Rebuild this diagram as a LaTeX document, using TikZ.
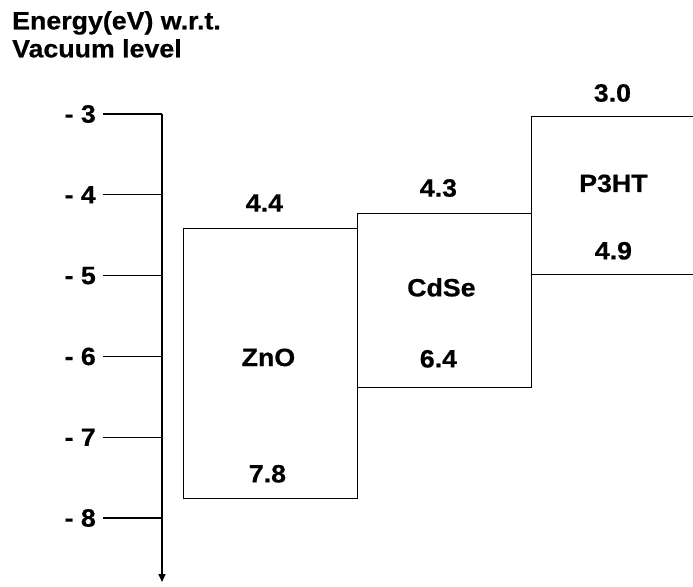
\documentclass[tikz,border=0pt]{standalone}
\usepackage{fontspec}
\setmainfont[FakeStretch=1.07, BoldFeatures={FakeBold=0.6}]{Liberation Sans}
\usetikzlibrary{arrows.meta,positioning}

\begin{document}
\begin{tikzpicture}[
  x=1pt, y=-1pt,
  font=\fontsize{25}{28}\selectfont\bfseries,
  band/.style={draw, line width=0.8pt, anchor=north west, inner sep=0pt, minimum width=174pt},
  lbl/.style={inner sep=0pt},
  axis/.style={line width=1.6pt, -{Triangle[width=7pt,length=8pt]}},
  tickline/.style={line width=1.1pt}
]
\useasboundingbox (0,0) rectangle (693,586);
\clip (0,0) rectangle (693,586);

% title
\node[lbl, anchor=north west, align=left] (title) at (12,11) {Energy(eV) w.r.t.\\Vacuum level};

% energy axis
\coordinate (top) at (162,114);
\coordinate (bottom) at (162,582);
\draw[axis] (top) -- (bottom);
\foreach \e [count=\i from 0] in {3,...,8} {
  \coordinate (t\e) at (162,114+80.8*\i);
  \coordinate (s\e) at (103,114+80.8*\i);
  \node[lbl, anchor=east] (v\e) at (96,114+80.8*\i) {- \e};
  \draw[tickline] (s\e) -- (t\e);
}

% bands
\node[band, minimum height=270pt] (zno) at (183,228) {};
\node[band, minimum height=174pt] (cdse) at (357,213) {};
\node[band, minimum height=158pt] (p3ht) at (531,116) {};

% levels and names
\node[lbl] (zno-lumo) at ([xshift=-6pt,yshift=25pt]zno.north) {4.4};
\node[lbl] (zno-name) at ([xshift=-2pt,yshift=6pt]zno.center) {ZnO};
\node[lbl] (zno-homo) at ([xshift=-3pt,yshift=25pt]zno.south) {7.8};
\node[lbl] (cdse-lumo) at ([xshift=-6pt,yshift=25pt]cdse.north) {4.3};
\node[lbl] (cdse-name) at ([xshift=-3pt,yshift=13pt]cdse.center) {CdSe};
\node[lbl] (cdse-homo) at ([xshift=-6pt,yshift=29pt]cdse.south) {6.4};
\node[lbl] (p3ht-lumo) at ([xshift=-6pt,yshift=23pt]p3ht.north) {3.0};
\node[lbl] (p3ht-name) at ([xshift=-5pt,yshift=12pt]p3ht.center) {P3HT};
\node[lbl] (p3ht-homo) at ([xshift=-5pt,yshift=24pt]p3ht.south) {4.9};
\end{tikzpicture}
\end{document}
